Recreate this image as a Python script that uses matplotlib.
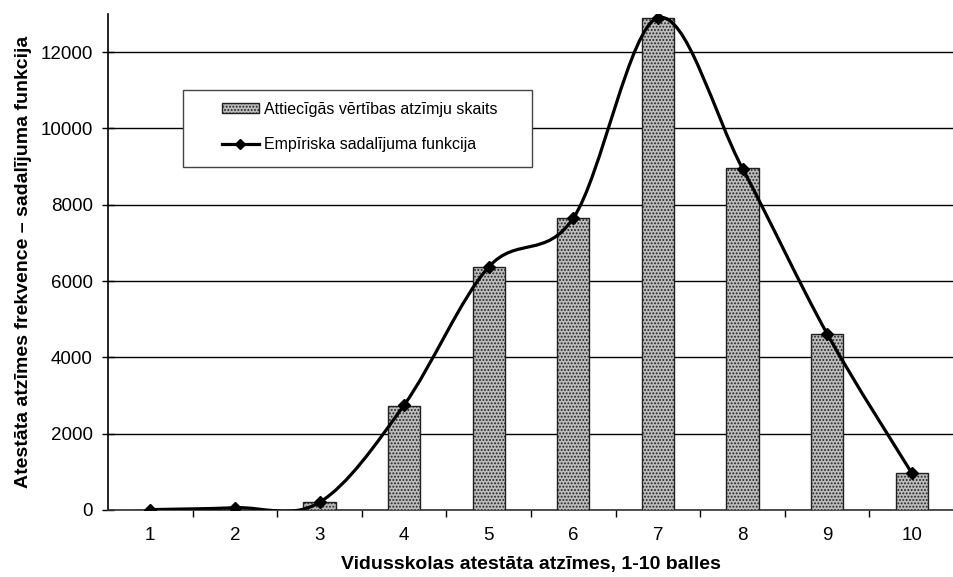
import numpy as np
import matplotlib.pyplot as plt
from matplotlib.path import Path
from matplotlib.patches import PathPatch, Patch, Rectangle
from matplotlib.lines import Line2D

plt.rcParams['font.family'] = ['Liberation Sans', 'DejaVu Sans']
plt.rcParams['hatch.color'] = '#303030'
plt.rcParams['hatch.linewidth'] = 0.9

# dati
atzimes = [1, 2, 3, 4, 5, 6, 7, 8, 9, 10]
skaits = [10, 60, 200, 2720, 6370, 7650, 12900, 8960, 4610, 970]
sadalijums = [10, 60, 200, 2750, 6370, 7650, 12900, 8950, 4620, 970]
y_ticks = [0, 2000, 4000, 6000, 8000, 10000, 12000]

legend_bar = 'Attiecīgās vērtības atzīmju skaits'
legend_line = 'Empīriska sadalījuma funkcija'
x_label = 'Vidusskolas atestāta atzīmes, 1-10 balles'
y_label = 'Atestāta atzīmes frekvence – sadalījuma funkcija'

fig = plt.figure(figsize=(9.54, 5.77), dpi=100)
ax = fig.add_axes([108 / 954, 67 / 577, 846 / 954, 496 / 577])

# stabiņi
ax.bar(atzimes, skaits, width=0.38, color='#bcbcbc', edgecolor='#222222',
       linewidth=1, hatch='.....', zorder=3)

# gluda līnija (Excel stila Bezjē)
x = np.array(atzimes, dtype=float)
y = np.array(sadalijums, dtype=float)
verts = [(x[0], y[0])]
codes = [Path.MOVETO]
n = len(x)
for i in range(n - 1):
    p0 = (x[max(i - 1, 0)], y[max(i - 1, 0)])
    p1 = (x[i], y[i])
    p2 = (x[i + 1], y[i + 1])
    p3 = (x[min(i + 2, n - 1)], y[min(i + 2, n - 1)])
    c1 = (p1[0] + (p2[0] - p0[0]) / 6, p1[1] + (p2[1] - p0[1]) / 6)
    c2 = (p2[0] - (p3[0] - p1[0]) / 6, p2[1] - (p3[1] - p1[1]) / 6)
    verts += [c1, c2, p2]
    codes += [Path.CURVE4] * 3
ax.add_patch(PathPatch(Path(verts, codes), facecolor='none', edgecolor='black',
                       linewidth=2.3, zorder=4, transform=ax.transData))
ax.plot(x, y, linestyle='none', marker='D', markersize=6.5, color='black', zorder=5)

ax.set_xlim(0.5, 10.5)
ax.set_ylim(0, 13000)
ax.set_yticks(y_ticks)
ax.set_yticklabels([str(v) for v in y_ticks], fontsize=13.5)
ax.set_xticks(atzimes)
ax.set_xticklabels([str(v) for v in atzimes], fontsize=13.5)
ax.set_xticks(np.arange(1.5, 10.5, 1), minor=True)
ax.tick_params(axis='x', which='major', length=0, pad=12)
ax.tick_params(axis='x', which='minor', length=5, width=1, direction='out')
ax.tick_params(axis='y', length=8, width=1, direction='inout', pad=7)

ax.yaxis.grid(True, color='black', linewidth=1)
ax.set_axisbelow(True)
for s in ['top', 'right']:
    ax.spines[s].set_visible(False)
ax.spines['left'].set_linewidth(1.2)
ax.spines['bottom'].set_linewidth(1.2)
ax.spines['bottom'].set_color('#333333')

ax.set_xlabel(x_label, fontsize=14, fontweight='bold', labelpad=9)
ax.set_ylabel(y_label, fontsize=14, fontweight='bold', labelpad=6)

# leģendas rāmis
ax.add_patch(Rectangle((75 / 846, (510 - 167) / 496), 349 / 846, 77 / 496,
                       transform=ax.transAxes, facecolor='white',
                       edgecolor='#444444', linewidth=1, zorder=6))
handles = [Patch(facecolor='#bcbcbc', edgecolor='#222222', hatch='.....'),
           Line2D([], [], color='black', linewidth=2.3, marker='D', markersize=5.5)]
leg = ax.legend(handles, [legend_bar, legend_line], loc='center left',
                bbox_to_anchor=(106 / 846, (510 - 127) / 496), fontsize=11.5,
                frameon=False, borderpad=0, labelspacing=1.3,
                handlelength=2.3, handleheight=0.6, handletextpad=0.3)
leg.set_zorder(7)

fig.savefig('out.png', dpi=100)
